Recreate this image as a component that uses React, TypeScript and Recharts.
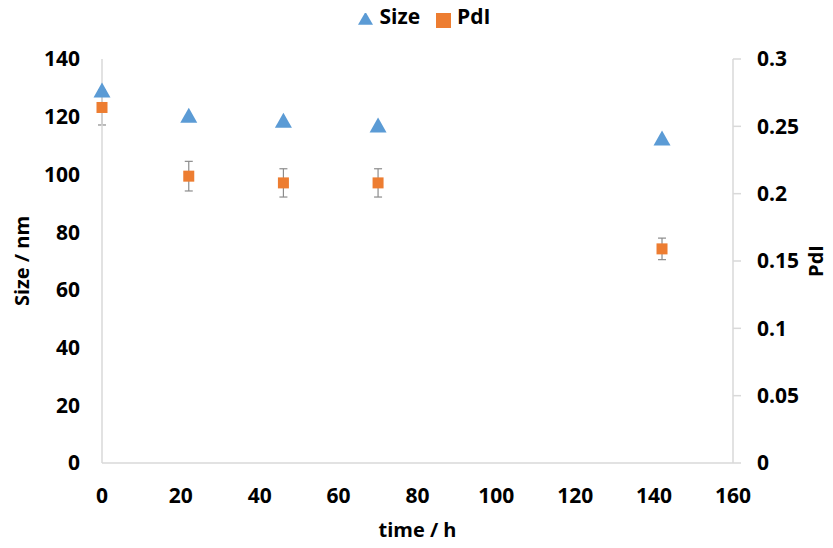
import React from 'react';
import { ScatterChart, Scatter, XAxis, YAxis, Legend, ErrorBar } from 'recharts';

const times = [0, 22, 46, 70, 142];
const sizeValues = [128.9, 120.2, 118.4, 116.8, 112.3];
const pdiValues = [0.264, 0.213, 0.208, 0.208, 0.159];
const pdiErrors = [0.013, 0.011, 0.0105, 0.0105, 0.008];

const xTicks = [0, 20, 40, 60, 80, 100, 120, 140, 160];
const sizeTicks = [0, 20, 40, 60, 80, 100, 120, 140];
const pdiTicks = [0, 0.05, 0.1, 0.15, 0.2, 0.25, 0.3];
const legendOrder = ['Size', 'PdI'];

const sizeData = times.map((t, i) => ({ time: t, size: sizeValues[i] }));
const pdiData = times.map((t, i) => ({ time: t, pdi: pdiValues[i], err: pdiErrors[i] }));

const BLUE = '#5b9bd5';
const ORANGE = '#ed7d31';
const AXIS = '#d9d9d9';
const FONT = '"Open Sans", sans-serif';

const tickStyle = { fontFamily: FONT, fontSize: 21, fontWeight: 700, fill: '#000' };
const titleStyle = { fontFamily: FONT, fontSize: 20, fontWeight: 700, fill: '#000' };

const Triangle = (props: any) => {
    const { cx, cy } = props;
    const h = 15;
    const w = 17;
    return <polygon points={`${cx},${cy - h / 2 - 1} ${cx + w / 2},${cy + h / 2 - 1} ${cx - w / 2},${cy + h / 2 - 1}`} fill={BLUE} />;
};

const Square = (props: any) => {
    const { cx, cy } = props;
    const s = 11;
    return <rect x={cx - s / 2} y={cy - s / 2} width={s} height={s} fill={ORANGE} />;
};

const App: React.FC = () => {
    return (
        <div style={{ position: 'absolute', left: 0, top: 0, width: 833, height: 548, background: '#fff' }}>
            <ScatterChart width={833} height={548} margin={{ top: 19, right: 20, bottom: 12, left: 20 }}>
                <Legend
                    verticalAlign="top"
                    align="center"
                    height={40}
                    iconSize={15}
                    wrapperStyle={{ top: 2, marginLeft: 16 }}
                    itemSorter={(item: any) => legendOrder.indexOf(item.value)}
                    formatter={(value: string) => (
                        <span style={{ color: '#000', fontFamily: FONT, fontSize: 21, fontWeight: 700, marginLeft: 2, marginRight: 6 }}>{value}</span>
                    )}
                />
                <XAxis
                    type="number"
                    dataKey="time"
                    domain={[0, 160]}
                    ticks={xTicks}
                    tickLine={false}
                    axisLine={{ stroke: AXIS, strokeWidth: 1.5 }}
                    tick={tickStyle}
                    tickMargin={19}
                    height={73}
                    label={{ value: 'time / h', position: 'insideBottom', offset: -1, style: titleStyle }}
                />
                <YAxis
                    yAxisId="size"
                    type="number"
                    dataKey="size"
                    domain={[0, 140]}
                    ticks={sizeTicks}
                    tickLine={false}
                    axisLine={{ stroke: AXIS, strokeWidth: 1.5 }}
                    tick={tickStyle}
                    tickMargin={16}
                    width={82}
                    label={{ value: 'Size / nm', angle: -90, position: 'insideLeft', offset: 2, style: { ...titleStyle, textAnchor: 'middle' } }}
                />
                <YAxis
                    yAxisId="pdi"
                    orientation="right"
                    type="number"
                    dataKey="pdi"
                    domain={[0, 0.3]}
                    ticks={pdiTicks}
                    tickLine={{ stroke: AXIS, strokeWidth: 1.5 }}
                    tickSize={8}
                    axisLine={{ stroke: AXIS, strokeWidth: 1.5 }}
                    tick={tickStyle}
                    tickMargin={16}
                    width={80}
                    label={{ value: 'PdI', angle: -90, position: 'insideRight', offset: -3, style: { ...titleStyle, textAnchor: 'middle' } }}
                />
                <Scatter
                    name="Size"
                    data={sizeData}
                    yAxisId="size"
                    dataKey="size"
                    fill={BLUE}
                    legendType="triangle"
                    shape={Triangle}
                    isAnimationActive={false}
                />
                <Scatter
                    name="PdI"
                    data={pdiData}
                    yAxisId="pdi"
                    dataKey="pdi"
                    fill={ORANGE}
                    legendType="square"
                    shape={Square}
                    isAnimationActive={false}
                >
                    <ErrorBar dataKey="err" direction="y" width={4} stroke="#8c8c8c" strokeWidth={1.2} />
                </Scatter>
            </ScatterChart>
        </div>
    );
};

export default App;
